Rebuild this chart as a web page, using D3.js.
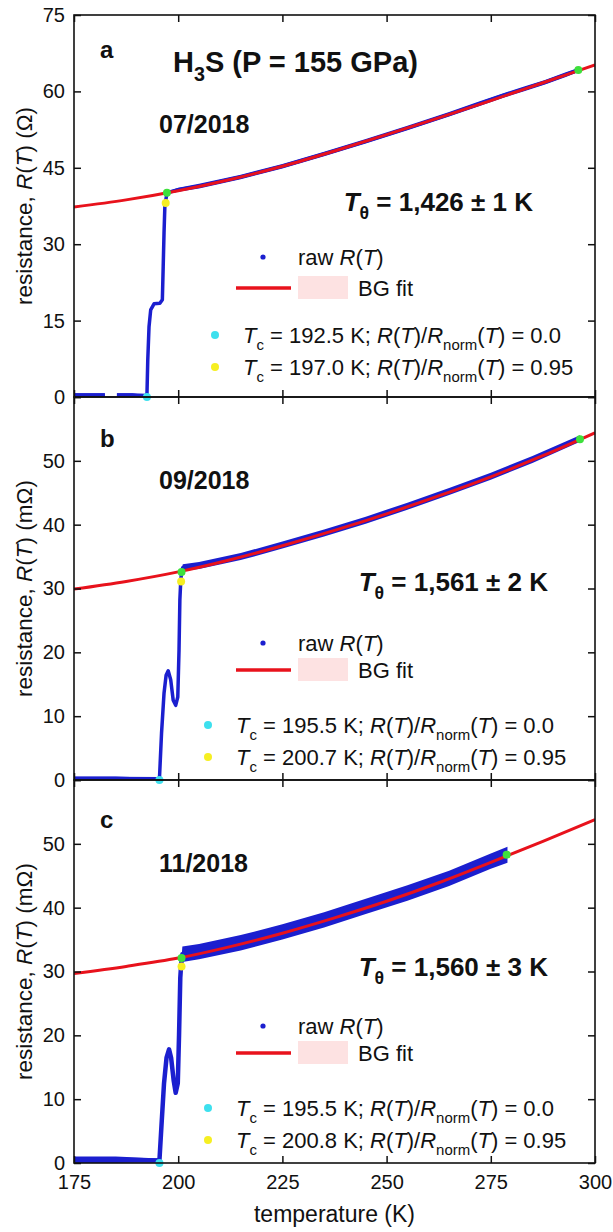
<!DOCTYPE html>
<html>
<head>
<meta charset="utf-8">
<script src="https://cdn.jsdelivr.net/npm/d3@7"></script>
<style>
  body { margin: 0; background: #fff; }
  text { font-family: "Liberation Sans", Arial, sans-serif; fill: #111; }
</style>
</head>
<body>
<div id="chart"></div>
<script>
// ---- data ----
const tempTicks = [175, 200, 225, 250, 275, 300];
const yTicksA = [0, 15, 30, 45, 60, 75];
const yTicksBC = [0, 10, 20, 30, 40, 50, 60];

// Bloch-Gruneisen fit curves
const fitT = [175, 187.5, 200, 212.5, 225, 237.5, 250, 262.5, 275, 287.5, 300];
const fitA = [37.3, 38.7, 40.5, 42.7, 45.3, 48.3, 51.5, 54.8, 58.2, 61.7, 65.2];
const fitB = [29.9, 31.1, 32.6, 34.5, 36.7, 39.1, 41.7, 44.5, 47.5, 50.8, 54.4];
const fitC = [29.7, 30.8, 32.1, 33.9, 36.0, 38.4, 41.0, 43.9, 47.1, 50.4, 53.8];

// raw R(T): temperature, centre value, half-width of the scatter band (null = no data)
const rawTA = [175, 178, 182.4, 183.8, 185.3, 189, 192.5, 192.7, 193.0, 193.4, 194.2, 195.6, 196.2, 196.4, 196.6, 196.8, 197.3, 200, 205, 215, 225, 235, 245, 255, 265, 272, 278, 283, 288, 293, 296];
const rawRA = [0.4, 0.4, 0.4, null, 0.4, 0.4, 0.3, 7.3, 13.8, 17.1, 18.3, 18.4, 19.1, 25.6, 32.2, 37.4, 40.1, 40.7, 41.4, 43.2, 45.3, 47.7, 50.2, 52.8, 55.5, 57.5, 59.2, 60.5, 61.8, 63.3, 64.2];
const rawSA = [0.35, 0.35, 0.35, 0, 0.35, 0.35, 0, 0, 0, 0, 0, 0, 0, 0, 0, 0, 0.2, 0.4, 0.45, 0.45, 0.45, 0.45, 0.45, 0.45, 0.45, 0.45, 0.45, 0.45, 0.45, 0.45, 0.4];

const rawTB = [175, 185, 195.5, 196.0, 196.6, 197.1, 197.6, 198.2, 198.8, 199.4, 199.9, 200.2, 200.4, 200.6, 200.8, 201.1, 205, 215, 225, 235, 245, 255, 265, 275, 285, 296.4];
const rawRB = [0.25, 0.25, 0.2, 7.3, 13.6, 16.4, 17.1, 15.7, 12.5, 11.7, 13.0, 20.4, 28.2, 31.0, 32.6, 33.3, 33.6, 35.0, 36.8, 38.7, 40.7, 42.9, 45.2, 47.6, 50.2, 53.5];
const rawSB = [0.3, 0.3, 0.1, 0, 0, 0, 0, 0, 0, 0, 0, 0, 0, 0, 0.3, 0.5, 0.55, 0.55, 0.55, 0.55, 0.55, 0.55, 0.55, 0.55, 0.55, 0.5];

const rawTC = [175, 185, 195.5, 196.0, 196.6, 197.2, 197.8, 198.3, 198.9, 199.4, 199.9, 200.2, 200.5, 200.7, 201.0, 205, 215, 225, 235, 245, 255, 265, 275, 279];
const rawRC = [0.5, 0.5, 0.4, 6.0, 12.5, 16.5, 17.8, 16.5, 13.0, 11.0, 12.5, 20.0, 29.0, 31.0, 32.7, 33.1, 34.5, 36.2, 38.1, 40.2, 42.3, 44.6, 47.3, 48.3];
const rawSC = [0.5, 0.5, 0.3, 0, 0, 0, 0, 0, 0, 0, 0, 0, 0, 0.4, 1.2, 1.2, 1.2, 1.2, 1.2, 1.2, 1.2, 1.2, 1.2, 1.25];

// marked points [T, R]
const greenA = [[197.3, 40.1], [296, 64.2]];
const greenB = [[200.8, 32.6], [296.4, 53.4]];
const greenC = [[200.8, 32.1], [278.8, 48.3]];
const tcZero = [[192.5, 0], [195.5, 0], [195.5, 0]];
const tc95 = [[197.0, 38.1], [200.7, 31.1], [200.8, 30.8]];

const panelLetters = ["a", "b", "c"];
const panelDates = ["07/2018", "09/2018", "11/2018"];
const thetaValues = ["1,426 ± 1 K", "1,561 ± 2 K", "1,560 ± 3 K"];
const tcZeroText = ["192.5", "195.5", "195.5"];
const tc95Text = ["197.0", "200.7", "200.8"];
const units = ["Ω", "mΩ", "mΩ"];

// ---- layout ----
const W = 613, H = 1232;
const left = 74, right = 595;
const tops = [15, 397, 780], bottoms = [397, 780, 1163];
const yMax = [75, 60, 60];

const cBlue = "#1b1fcf", cRed = "#e8121c", cPink = "#fde2e2",
      cCyan = "#3de0ee", cYellow = "#f6ef22", cGreen = "#3ee03c";

const svg = d3.select("#chart").append("svg")
  .attr("width", W).attr("height", H);

const x = d3.scaleLinear().domain([175, 300]).range([left, right]);

// rich text helper: parts = [text, flags] ; flags: i = italic, s = subscript
function rich(g, px, py, parts, size, opts = {}) {
  const t = g.append("text").attr("x", px).attr("y", py)
    .attr("font-size", size)
    .attr("font-weight", opts.bold ? "bold" : null)
    .attr("text-anchor", opts.anchor || "start")
    .attr("transform", opts.rotate ? `rotate(-90,${px},${py})` : null);
  let shifted = false;
  const sub = size * 0.3;
  parts.forEach(([s, f = ""]) => {
    const ts = t.append("tspan").text(s);
    if (f.includes("i")) ts.attr("font-style", "italic");
    if (f.includes("s")) {
      ts.attr("font-size", size * 0.68);
      if (!shifted) { ts.attr("dy", sub); shifted = true; }
    } else if (shifted) { ts.attr("dy", -sub); shifted = false; }
  });
  return t;
}

const rawSets = [[rawTA, rawRA, rawSA], [rawTB, rawRB, rawSB], [rawTC, rawRC, rawSC]];
const fits = [fitA, fitB, fitC];
const greens = [greenA, greenB, greenC];

panelLetters.forEach((letter, p) => {
  const top = tops[p], bottom = bottoms[p];
  const y = d3.scaleLinear().domain([0, yMax[p]]).range([bottom, top]);
  const g = svg.append("g");

  g.append("clipPath").attr("id", "clip" + p)
    .append("rect").attr("x", left).attr("y", top)
    .attr("width", right - left).attr("height", bottom - top);
  const plot = g.append("g").attr("clip-path", `url(#clip${p})`);

  // raw data band
  const [rt, rr, rs] = rawSets[p];
  const raw = rt.map((t, i) => ({ t, r: rr[i], s: rs[i] }));
  plot.append("path").datum(raw)
    .attr("fill", cBlue)
    .attr("d", d3.area().defined(d => d.r != null)
      .x(d => x(d.t)).y0(d => y(d.r - d.s)).y1(d => y(d.r + d.s)));
  plot.append("path").datum(raw)
    .attr("fill", "none").attr("stroke", cBlue)
    .attr("stroke-width", p === 2 ? 4.5 : 3.5).attr("stroke-linejoin", "round")
    .attr("d", d3.line().defined(d => d.r != null).x(d => x(d.t)).y(d => y(d.r)));

  // BG fit
  plot.append("path").datum(fitT.map((t, i) => [t, fits[p][i]]))
    .attr("fill", "none").attr("stroke", cRed).attr("stroke-width", 3)
    .attr("d", d3.line().curve(d3.curveMonotoneX).x(d => x(d[0])).y(d => y(d[1])));

  // marked points
  const dot = (pt, col) => g.append("circle")
    .attr("cx", x(pt[0])).attr("cy", y(pt[1])).attr("r", 4).attr("fill", col);
  greens[p].forEach(pt => dot(pt, cGreen));
  dot(tc95[p], cYellow);
  dot(tcZero[p], cCyan);

  // axes (ticks point inward)
  const ticksY = p === 0 ? yTicksA : yTicksBC;
  const axL = g.append("g").attr("transform", `translate(${left},0)`)
    .call(d3.axisLeft(y).tickValues(ticksY).tickSize(-7).tickSizeOuter(0).tickPadding(9)
      .tickFormat(v => (p > 0 && v === 60) ? "" : v));
  const axR = g.append("g").attr("transform", `translate(${right},0)`)
    .call(d3.axisRight(y).tickValues(ticksY).tickSize(-7).tickSizeOuter(0).tickFormat(""));
  const axT = g.append("g").attr("transform", `translate(0,${top})`)
    .call(d3.axisTop(x).tickValues(tempTicks).tickSize(-7).tickSizeOuter(0).tickFormat(""));
  const axB = g.append("g").attr("transform", `translate(0,${bottom})`)
    .call(d3.axisBottom(x).tickValues(tempTicks).tickSize(-7).tickSizeOuter(0).tickPadding(12)
      .tickFormat(p === 2 ? d3.format("d") : ""));
  [axL, axR, axT, axB].forEach(a => {
    a.select(".domain").remove();
    a.selectAll(".tick line").attr("stroke", "#111").attr("stroke-width", 1.5);
    a.selectAll("text").attr("font-size", 20).attr("fill", "#111")
      .attr("font-family", '"Liberation Sans", Arial, sans-serif');
  });
  g.append("rect").attr("x", left).attr("y", top)
    .attr("width", right - left).attr("height", bottom - top)
    .attr("fill", "none").attr("stroke", "#111").attr("stroke-width", 1.6);

  // y title
  rich(g, 32, (top + bottom) / 2,
    [["resistance, "], ["R", "i"], ["("], ["T", "i"], [`) (${units[p]})`]], 22.5,
    { rotate: true, anchor: "middle" });

  // annotations
  const letterY = [58, 447, 828][p];
  rich(g, 100, letterY, [[letter]], 24, { bold: true });
  rich(g, 159, [133, 489, 872][p], [[panelDates[p]]], 25, { bold: true });
  rich(g, p === 0 ? 533 : 548, [211, 591, 976][p],
    [["T", "i"], ["θ", "s"], [" = " + thetaValues[p]]], 26, { bold: true, anchor: "end" });

  // legend
  const lt = top;
  const lx = p === 0 ? 7 : 0;
  g.append("circle").attr("cx", 263).attr("cy", lt + (p === 0 ? 242 : 246)).attr("r", 2.6).attr("fill", cBlue);
  rich(g, 298, lt + (p === 0 ? 250 : 254), [["raw "], ["R", "i"], ["("], ["T", "i"], [")"]], 22);
  g.append("line").attr("x1", 236).attr("x2", 291)
    .attr("y1", lt + 273).attr("y2", lt + 273)
    .attr("stroke", cRed).attr("stroke-width", 3.5);
  g.append("rect").attr("x", 298).attr("y", lt + 261).attr("width", 50).attr("height", 23)
    .attr("fill", cPink);
  rich(g, 358, lt + 281, [["BG fit"]], 22);

  g.append("circle").attr("cx", 208 + lx).attr("cy", lt + 328 - (p === 0 ? 8 : 0)).attr("r", 4).attr("fill", cCyan);
  g.append("circle").attr("cx", 208 + lx).attr("cy", lt + 360 - (p === 0 ? 8 : 0)).attr("r", 4).attr("fill", cYellow);
  const tcParts = v => [["T", "i"], ["c", "s"], [` = ${v} K; `], ["R", "i"], ["("], ["T", "i"], [")/"],
    ["R", "i"], ["norm", "s"], ["("], ["T", "i"], [")"]];
  rich(g, 236 + lx, lt + 336 - (p === 0 ? 8 : 0), [...tcParts(tcZeroText[p]), [" = 0.0"]], 22);
  rich(g, 236 + lx, lt + 368 - (p === 0 ? 8 : 0), [...tcParts(tc95Text[p]), [" = 0.95"]], 22);
});

// title and x axis label
rich(svg, 173, 72, [["H"], ["3", "s"], ["S (P = 155 GPa)"]], 29, { bold: true });
rich(svg, (left + right) / 2, 1222, [["temperature (K)"]], 23, { anchor: "middle" });
</script>
</body>
</html>
